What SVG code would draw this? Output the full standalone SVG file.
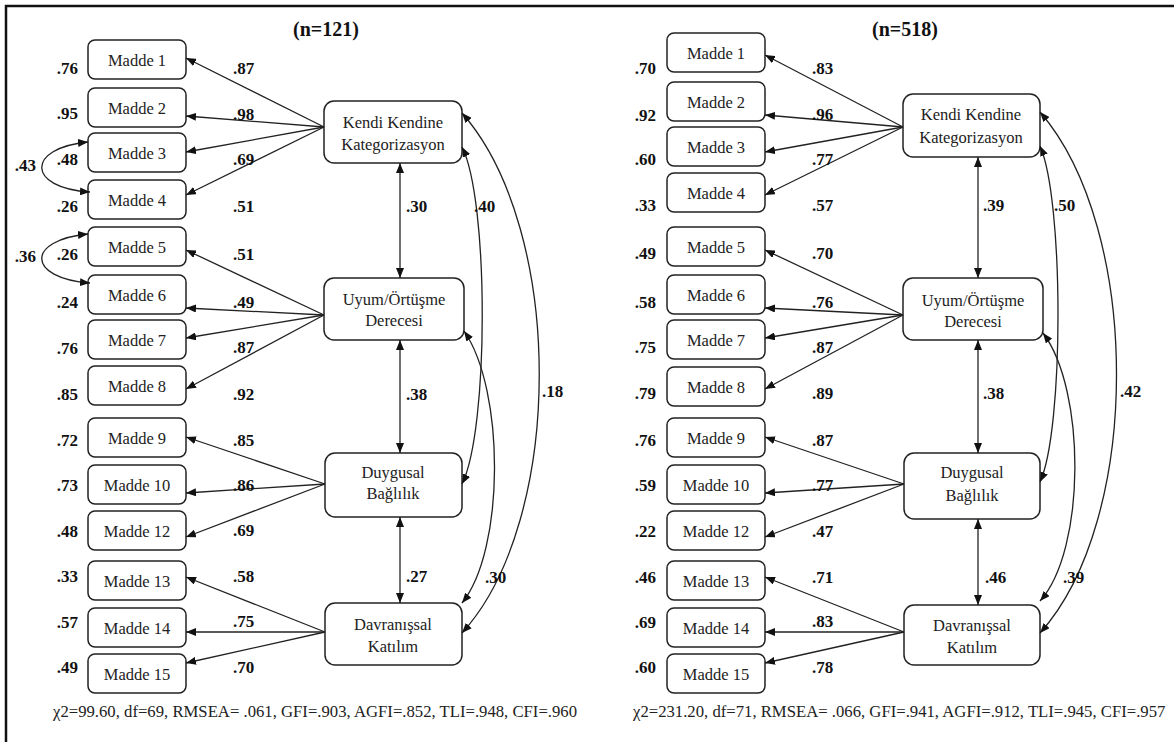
<svg xmlns="http://www.w3.org/2000/svg" width="1174" height="742" viewBox="0 0 1174 742">
<defs>
<marker id="ah" viewBox="0 0 10 8" refX="10" refY="4" markerWidth="10" markerHeight="8" markerUnits="userSpaceOnUse" orient="auto-start-reverse"><path d="M0,0 L10,4 L0,8 z" fill="#111"/></marker>
<style>
.box{fill:#fff;stroke:#222;stroke-width:1.5}
.t{font-family:"Liberation Serif","Times New Roman",serif;font-size:16.5px;fill:#222;text-anchor:middle}
.n{font-family:"Liberation Serif","Times New Roman",serif;font-size:17px;font-weight:bold;fill:#111}
.e{text-anchor:end}
.c{fill:none;stroke:#222;stroke-width:1.3}
.a{marker-end:url(#ah)}
.b{marker-start:url(#ah);marker-end:url(#ah)}
.ttl{font-family:"Liberation Serif","Times New Roman",serif;font-size:20px;font-weight:bold;fill:#111;text-anchor:middle}
.st{font-family:"Liberation Serif","Times New Roman",serif;font-size:16.7px;fill:#222}
</style>
</defs>
<rect width="1174" height="742" fill="#fff"/>
<path d="M6,742 V6 H1174" fill="none" stroke="#111" stroke-width="2.5"/>

<text class="ttl" x="326" y="36">(n=121)</text>
<text class="ttl" x="905" y="36">(n=518)</text>

<!-- LEFT PANEL nodes -->
<g id="L-m1"><rect class="box" x="88" y="40" width="98" height="39" rx="7"/><text class="t" x="137" y="65.5">Madde 1</text></g>
<g id="L-m2"><rect class="box" x="88" y="88" width="98" height="39" rx="7"/><text class="t" x="137" y="113.5">Madde 2</text></g>
<g id="L-m3"><rect class="box" x="88" y="133" width="98" height="39" rx="7"/><text class="t" x="137" y="158.5">Madde 3</text></g>
<g id="L-m4"><rect class="box" x="88" y="180" width="98" height="39" rx="7"/><text class="t" x="137" y="205.5">Madde 4</text></g>
<g id="L-m5"><rect class="box" x="88" y="227" width="98" height="39" rx="7"/><text class="t" x="137" y="252.5">Madde 5</text></g>
<g id="L-m6"><rect class="box" x="88" y="275" width="98" height="39" rx="7"/><text class="t" x="137" y="300.5">Madde 6</text></g>
<g id="L-m7"><rect class="box" x="88" y="320" width="98" height="39" rx="7"/><text class="t" x="137" y="345.5">Madde 7</text></g>
<g id="L-m8"><rect class="box" x="88" y="366" width="98" height="39" rx="7"/><text class="t" x="137" y="391.5">Madde 8</text></g>
<g id="L-m9"><rect class="box" x="88" y="418" width="98" height="39" rx="7"/><text class="t" x="137" y="443.5">Madde 9</text></g>
<g id="L-m10"><rect class="box" x="88" y="465" width="98" height="39" rx="7"/><text class="t" x="137" y="490.5">Madde 10</text></g>
<g id="L-m12"><rect class="box" x="88" y="511" width="98" height="39" rx="7"/><text class="t" x="137" y="536.5">Madde 12</text></g>
<g id="L-m13"><rect class="box" x="88" y="561" width="98" height="39" rx="7"/><text class="t" x="137" y="586.5">Madde 13</text></g>
<g id="L-m14"><rect class="box" x="88" y="608" width="98" height="39" rx="7"/><text class="t" x="137" y="633.5">Madde 14</text></g>
<g id="L-m15"><rect class="box" x="88" y="654" width="98" height="39" rx="7"/><text class="t" x="137" y="679.5">Madde 15</text></g>

<g id="L-kendi"><rect class="box" x="324" y="101" width="138" height="62" rx="10"/><text class="t" x="393" y="128">Kendi Kendine</text><text class="t" x="393" y="150">Kategorizasyon</text></g>
<g id="L-uyum"><rect class="box" x="324" y="278" width="140" height="62" rx="10"/><text class="t" x="394" y="305">Uyum/Örtüşme</text><text class="t" x="394" y="326">Derecesi</text></g>
<g id="L-duygusal"><rect class="box" x="325" y="453" width="137" height="64" rx="10"/><text class="t" x="393" y="478">Duygusal</text><text class="t" x="393" y="499">Bağlılık</text></g>
<g id="L-davranissal"><rect class="box" x="325" y="603" width="137" height="62" rx="10"/><text class="t" x="393" y="630">Davranışsal</text><text class="t" x="393" y="652">Katılım</text></g>

<!-- RIGHT PANEL nodes -->
<g id="R-m1"><rect class="box" x="667" y="33" width="98" height="39" rx="7"/><text class="t" x="716" y="58.5">Madde 1</text></g>
<g id="R-m2"><rect class="box" x="667" y="82" width="98" height="39" rx="7"/><text class="t" x="716" y="107.5">Madde 2</text></g>
<g id="R-m3"><rect class="box" x="667" y="127" width="98" height="39" rx="7"/><text class="t" x="716" y="152.5">Madde 3</text></g>
<g id="R-m4"><rect class="box" x="667" y="173" width="98" height="39" rx="7"/><text class="t" x="716" y="198.5">Madde 4</text></g>
<g id="R-m5"><rect class="box" x="667" y="227" width="98" height="39" rx="7"/><text class="t" x="716" y="252.5">Madde 5</text></g>
<g id="R-m6"><rect class="box" x="667" y="275" width="98" height="39" rx="7"/><text class="t" x="716" y="300.5">Madde 6</text></g>
<g id="R-m7"><rect class="box" x="667" y="320" width="98" height="39" rx="7"/><text class="t" x="716" y="345.5">Madde 7</text></g>
<g id="R-m8"><rect class="box" x="667" y="367" width="98" height="39" rx="7"/><text class="t" x="716" y="392.5">Madde 8</text></g>
<g id="R-m9"><rect class="box" x="667" y="418" width="98" height="39" rx="7"/><text class="t" x="716" y="443.5">Madde 9</text></g>
<g id="R-m10"><rect class="box" x="667" y="465" width="98" height="39" rx="7"/><text class="t" x="716" y="490.5">Madde 10</text></g>
<g id="R-m12"><rect class="box" x="667" y="511" width="98" height="39" rx="7"/><text class="t" x="716" y="536.5">Madde 12</text></g>
<g id="R-m13"><rect class="box" x="667" y="561" width="98" height="39" rx="7"/><text class="t" x="716" y="586.5">Madde 13</text></g>
<g id="R-m14"><rect class="box" x="667" y="608" width="98" height="39" rx="7"/><text class="t" x="716" y="633.5">Madde 14</text></g>
<g id="R-m15"><rect class="box" x="667" y="654" width="98" height="39" rx="7"/><text class="t" x="716" y="679.5">Madde 15</text></g>

<g id="R-kendi"><rect class="box" x="903" y="94" width="137" height="63" rx="10"/><text class="t" x="971" y="120">Kendi Kendine</text><text class="t" x="971" y="143">Kategorizasyon</text></g>
<g id="R-uyum"><rect class="box" x="903" y="278" width="140" height="62" rx="10"/><text class="t" x="973" y="306">Uyum/Örtüşme</text><text class="t" x="973" y="327">Derecesi</text></g>
<g id="R-duygusal"><rect class="box" x="904" y="453" width="136" height="66" rx="10"/><text class="t" x="972" y="478">Duygusal</text><text class="t" x="972" y="501">Bağlılık</text></g>
<g id="R-davranissal"><rect class="box" x="904" y="605" width="136" height="60" rx="10"/><text class="t" x="972" y="631">Davranışsal</text><text class="t" x="972" y="653">Katılım</text></g>

<!-- CONNECTORS -->
<g id="connectors">
<line class="c a" x1="324" y1="127" x2="186" y2="58"/>
<line class="c a" x1="324" y1="127" x2="186" y2="116"/>
<line class="c a" x1="324" y1="127" x2="186" y2="152"/>
<line class="c a" x1="324" y1="127" x2="186" y2="195"/>
<line class="c a" x1="324" y1="315" x2="186" y2="250"/>
<line class="c a" x1="324" y1="315" x2="186" y2="308"/>
<line class="c a" x1="324" y1="315" x2="186" y2="338"/>
<line class="c a" x1="324" y1="315" x2="186" y2="389"/>
<line class="c a" x1="325" y1="484" x2="186" y2="437"/>
<line class="c a" x1="325" y1="484" x2="186" y2="493"/>
<line class="c a" x1="325" y1="484" x2="186" y2="537"/>
<line class="c a" x1="325" y1="632" x2="186" y2="577"/>
<line class="c a" x1="325" y1="632" x2="186" y2="632"/>
<line class="c a" x1="325" y1="632" x2="186" y2="663"/>
<line class="c b" x1="400" y1="163" x2="400" y2="278"/>
<line class="c b" x1="400" y1="340" x2="400" y2="453"/>
<line class="c b" x1="400" y1="517" x2="400" y2="603"/>
<path class="c b" d="M462,147 C489,200 489,430 462,484"/>
<path class="c b" d="M462,113 C565,230 565,520 462,633"/>
<path class="c b" d="M464,331 C505,390 505,550 462,603"/>
<path class="c b" d="M88,142 C26,148 26,188 90,192"/>
<path class="c b" d="M88,234 C26,240 26,278 90,283"/>

<line class="c a" x1="903" y1="127" x2="765" y2="55"/>
<line class="c a" x1="903" y1="127" x2="765" y2="115"/>
<line class="c a" x1="903" y1="127" x2="765" y2="152"/>
<line class="c a" x1="903" y1="127" x2="765" y2="195"/>
<line class="c a" x1="903" y1="315" x2="765" y2="250"/>
<line class="c a" x1="903" y1="315" x2="765" y2="308"/>
<line class="c a" x1="903" y1="315" x2="765" y2="338"/>
<line class="c a" x1="903" y1="315" x2="765" y2="389"/>
<line class="c a" x1="904" y1="484" x2="765" y2="437"/>
<line class="c a" x1="904" y1="484" x2="765" y2="493"/>
<line class="c a" x1="904" y1="484" x2="765" y2="537"/>
<line class="c a" x1="904" y1="632" x2="765" y2="577"/>
<line class="c a" x1="904" y1="632" x2="765" y2="632"/>
<line class="c a" x1="904" y1="632" x2="765" y2="663"/>
<line class="c b" x1="978" y1="157" x2="978" y2="278"/>
<line class="c b" x1="978" y1="340" x2="978" y2="453"/>
<line class="c b" x1="978" y1="519" x2="978" y2="605"/>
<path class="c b" d="M1040,146 C1064,200 1064,430 1040,482"/>
<path class="c b" d="M1040,112 C1142,230 1142,520 1040,633"/>
<path class="c b" d="M1043,333 C1086,390 1086,550 1040,601"/>
</g>

<!-- LEFT labels -->
<g id="L-labels">
<text class="n e" x="78" y="74">.76</text>
<text class="n e" x="78" y="119">.95</text>
<text class="n e" x="78" y="165">.48</text>
<text class="n e" x="78" y="212">.26</text>
<text class="n e" x="78" y="260">.26</text>
<text class="n e" x="78" y="308">.24</text>
<text class="n e" x="78" y="354">.76</text>
<text class="n e" x="78" y="400">.85</text>
<text class="n e" x="78" y="446">.72</text>
<text class="n e" x="78" y="491">.73</text>
<text class="n e" x="78" y="537">.48</text>
<text class="n e" x="78" y="582">.33</text>
<text class="n e" x="78" y="628">.57</text>
<text class="n e" x="78" y="673">.49</text>
<text class="n e" x="36" y="171">.43</text>
<text class="n e" x="36" y="262">.36</text>
<text class="n" x="233" y="74">.87</text>
<text class="n" x="233" y="120">.98</text>
<text class="n" x="233" y="165">.69</text>
<text class="n" x="233" y="212">.51</text>
<text class="n" x="233" y="260">.51</text>
<text class="n" x="233" y="308">.49</text>
<text class="n" x="233" y="353">.87</text>
<text class="n" x="233" y="400">.92</text>
<text class="n" x="233" y="446">.85</text>
<text class="n" x="233" y="491">.86</text>
<text class="n" x="233" y="536">.69</text>
<text class="n" x="233" y="582">.58</text>
<text class="n" x="233" y="627">.75</text>
<text class="n" x="233" y="673">.70</text>
<text class="n" x="406" y="212">.30</text>
<text class="n" x="406" y="400">.38</text>
<text class="n" x="406" y="582">.27</text>
<text class="n" x="474" y="212">.40</text>
<text class="n" x="542" y="397">.18</text>
<text class="n" x="485" y="583">.30</text>
</g>

<!-- RIGHT labels -->
<g id="R-labels">
<text class="n e" x="656" y="74">.70</text>
<text class="n e" x="656" y="121">.92</text>
<text class="n e" x="656" y="165">.60</text>
<text class="n e" x="656" y="211">.33</text>
<text class="n e" x="656" y="259">.49</text>
<text class="n e" x="656" y="308">.58</text>
<text class="n e" x="656" y="353">.75</text>
<text class="n e" x="656" y="399">.79</text>
<text class="n e" x="656" y="446">.76</text>
<text class="n e" x="656" y="491">.59</text>
<text class="n e" x="656" y="537">.22</text>
<text class="n e" x="656" y="583">.46</text>
<text class="n e" x="656" y="628">.69</text>
<text class="n e" x="656" y="673">.60</text>
<text class="n" x="812" y="74">.83</text>
<text class="n" x="812" y="120">.96</text>
<text class="n" x="812" y="165">.77</text>
<text class="n" x="812" y="211">.57</text>
<text class="n" x="812" y="259">.70</text>
<text class="n" x="812" y="308">.76</text>
<text class="n" x="812" y="353">.87</text>
<text class="n" x="812" y="399">.89</text>
<text class="n" x="812" y="446">.87</text>
<text class="n" x="812" y="491">.77</text>
<text class="n" x="812" y="537">.47</text>
<text class="n" x="812" y="583">.71</text>
<text class="n" x="812" y="627">.83</text>
<text class="n" x="812" y="673">.78</text>
<text class="n" x="983" y="211">.39</text>
<text class="n" x="983" y="399">.38</text>
<text class="n" x="985" y="583">.46</text>
<text class="n" x="1054" y="211">.50</text>
<text class="n" x="1120" y="397">.42</text>
<text class="n" x="1063" y="583">.39</text>
</g>

<text class="st" x="53" y="717">χ2=99.60, df=69, RMSEA= .061, GFI=.903, AGFI=.852, TLI=.948, CFI=.960</text>
<text class="st" x="633" y="717">χ2=231.20, df=71, RMSEA= .066, GFI=.941, AGFI=.912, TLI=.945, CFI=.957</text>
</svg>
